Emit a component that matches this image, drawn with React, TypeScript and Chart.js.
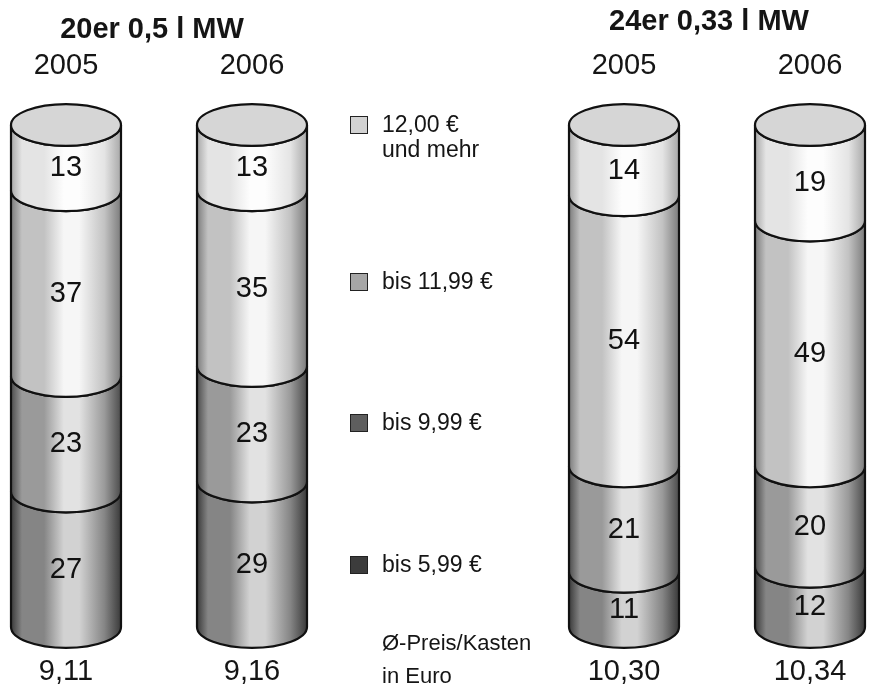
import React, { useEffect, useRef } from "react";
import { Chart, registerables } from "chart.js";

Chart.register(...registerables);

// ---------- data ----------
const categories = ["2005", "2006", "", "2005", "2006"];
const priceLabels = ["9,11", "9,16", "", "10,30", "10,34"];
const groupTitles = ["20er 0,5 l MW", "24er 0,33 l MW"];
const seriesNames = ["bis 5,99 €", "bis 9,99 €", "bis 11,99 €", "12,00 € und mehr"];
const bis599 = [27, 29, null, 11, 12];
const bis999 = [23, 23, null, 21, 20];
const bis1199 = [37, 35, null, 54, 49];
const ab1200 = [13, 13, null, 14, 19];
const legendNote = ["Ø-Preis/Kasten", "in Euro"];

// ---------- styles ----------
const FONT = "'Liberation Sans', Arial, Helvetica, sans-serif";
const shades = [
  { edge: "#3a3a3a", mid: "#858585", light: "#d2d2d2", box: "#3c3c3c" },
  { edge: "#4c4c4c", mid: "#9a9a9a", light: "#e2e2e2", box: "#5e5e5e" },
  { edge: "#7c7c7c", mid: "#c2c2c2", light: "#f6f6f6", box: "#a6a6a6" },
  { edge: "#a8a8a8", mid: "#e4e4e4", light: "#fdfdfd", box: "#d2d2d2" },
];

const cylinderPlugin = {
  id: "cylinders",
  afterDatasetsDraw(chart: any) {
    const ctx: CanvasRenderingContext2D = chart.ctx;
    const n = chart.data.labels.length;
    const nDs = chart.data.datasets.length;
    for (let i = 0; i < n; i++) {
      let topIdx = -1;
      for (let d = 0; d < nDs; d++) {
        if (chart.data.datasets[d].data[i] != null) topIdx = d;
      }
      if (topIdx < 0) continue;
      for (let d = 0; d < nDs; d++) {
        const v = chart.data.datasets[d].data[i];
        if (v == null) continue;
        const el = chart.getDatasetMeta(d).data[i];
        const { x, y, base, width } = el.getProps(["x", "y", "base", "width"], true);
        const rx = width / 2;
        const ry = width * 0.19;
        const left = x - rx;
        const right = x + rx;
        const sh = shades[d];
        const g = ctx.createLinearGradient(left, 0, right, 0);
        g.addColorStop(0, sh.edge);
        g.addColorStop(0.1, sh.mid);
        g.addColorStop(0.3, sh.mid);
        g.addColorStop(0.48, sh.light);
        g.addColorStop(0.62, sh.light);
        g.addColorStop(0.85, sh.mid);
        g.addColorStop(1, sh.edge);
        ctx.save();
        ctx.beginPath();
        ctx.moveTo(left, y);
        ctx.lineTo(left, base);
        ctx.ellipse(x, base, rx, ry, 0, Math.PI, 0, true);
        ctx.lineTo(right, y);
        ctx.ellipse(x, y, rx, ry, 0, 0, Math.PI, false);
        ctx.closePath();
        ctx.fillStyle = g;
        ctx.fill();
        ctx.lineWidth = 2.2;
        ctx.strokeStyle = "#111";
        ctx.stroke();
        if (d === topIdx) {
          ctx.beginPath();
          ctx.ellipse(x, y, rx, ry, 0, 0, Math.PI * 2);
          ctx.fillStyle = "#d6d6d6";
          ctx.fill();
          ctx.lineWidth = 2.2;
          ctx.stroke();
        }
        ctx.fillStyle = "#111";
        ctx.font = `29px ${FONT}`;
        ctx.textAlign = "center";
        ctx.textBaseline = "middle";
        ctx.fillText(String(v), x, (y + base) / 2 + ry * 0.5);
        ctx.restore();
      }
    }
  },
};

const noSidePadding = (s: any, h: number) => {
  s.height = h;
  s.paddingLeft = 0;
  s.paddingRight = 0;
};

export default function App() {
  const ref = useRef<HTMLCanvasElement | null>(null);
  useEffect(() => {
    if (!ref.current) return;
    const series = [bis599, bis999, bis1199, ab1200];
    const chart = new Chart(ref.current, {
      type: "bar",
      data: {
        labels: categories,
        datasets: series.map((s, k) => ({
          label: seriesNames[k],
          data: s,
          backgroundColor: "transparent",
          borderWidth: 0,
          barThickness: 110,
          xAxisID: "x",
          yAxisID: "y",
        })),
      },
      options: {
        animation: false,
        responsive: true,
        maintainAspectRatio: false,
        layout: { padding: { left: 66, right: 62, top: 0, bottom: 0 } },
        plugins: { legend: { display: false }, tooltip: { enabled: false } },
        scales: {
          x: {
            type: "category",
            position: "top",
            stacked: true,
            offset: false,
            grid: { display: false, drawTicks: false },
            border: { display: false },
            ticks: {
              padding: 42,
              autoSkip: false,
              maxRotation: 0,
              color: "#151515",
              font: { family: FONT, size: 29 },
            },
            afterFit: (s: any) => noSidePadding(s, 125),
          },
          x2: {
            type: "category",
            position: "bottom",
            labels: priceLabels,
            offset: false,
            grid: { display: false, drawTicks: false },
            border: { display: false },
            ticks: {
              padding: 28,
              autoSkip: false,
              maxRotation: 0,
              color: "#151515",
              font: { family: FONT, size: 29 },
            },
            afterFit: (s: any) => noSidePadding(s, 68),
          },
          y: { stacked: true, min: 0, max: 100, display: false },
        },
      },
      plugins: [cylinderPlugin],
    } as any);
    return () => chart.destroy();
  }, []);

  const legendRows = [
    { idx: 3, top: 112 },
    { idx: 2, top: 269 },
    { idx: 1, top: 410 },
    { idx: 0, top: 552 },
  ];

  return (
    <div
      style={{
        position: "fixed",
        left: 0,
        top: 0,
        width: 872,
        height: 695,
        background: "#fff",
        fontFamily: FONT,
        color: "#151515",
      }}
    >
      <canvas ref={ref} />
      <div
        style={{
          position: "absolute",
          left: 52,
          width: 200,
          top: 12,
          textAlign: "center",
          fontWeight: "bold",
          fontSize: 29,
          whiteSpace: "nowrap",
        }}
      >
        {groupTitles[0]}
      </div>
      <div
        style={{
          position: "absolute",
          left: 600,
          width: 218,
          top: 4,
          textAlign: "center",
          fontWeight: "bold",
          fontSize: 29,
          whiteSpace: "nowrap",
        }}
      >
        {groupTitles[1]}
      </div>
      {legendRows.map((r) => {
        const parts = seriesNames[r.idx].split(" und ");
        return (
          <div key={r.idx} style={{ position: "absolute", left: 350, top: r.top }}>
            <div
              style={{
                position: "absolute",
                left: 0,
                top: 4,
                width: 16,
                height: 16,
                background: shades[r.idx].box,
                border: "1px solid #222",
              }}
            />
            <div
              style={{
                position: "absolute",
                left: 32,
                top: 0,
                fontSize: 23,
                lineHeight: "25px",
                whiteSpace: "nowrap",
              }}
            >
              {parts.length > 1 ? (
                <>
                  {parts[0]}
                  <br />
                  {"und " + parts[1]}
                </>
              ) : (
                parts[0]
              )}
            </div>
          </div>
        );
      })}
      <div
        style={{
          position: "absolute",
          left: 382,
          top: 626,
          fontSize: 22,
          lineHeight: "33px",
          whiteSpace: "nowrap",
        }}
      >
        {legendNote[0]}
        <br />
        {legendNote[1]}
      </div>
    </div>
  );
}
